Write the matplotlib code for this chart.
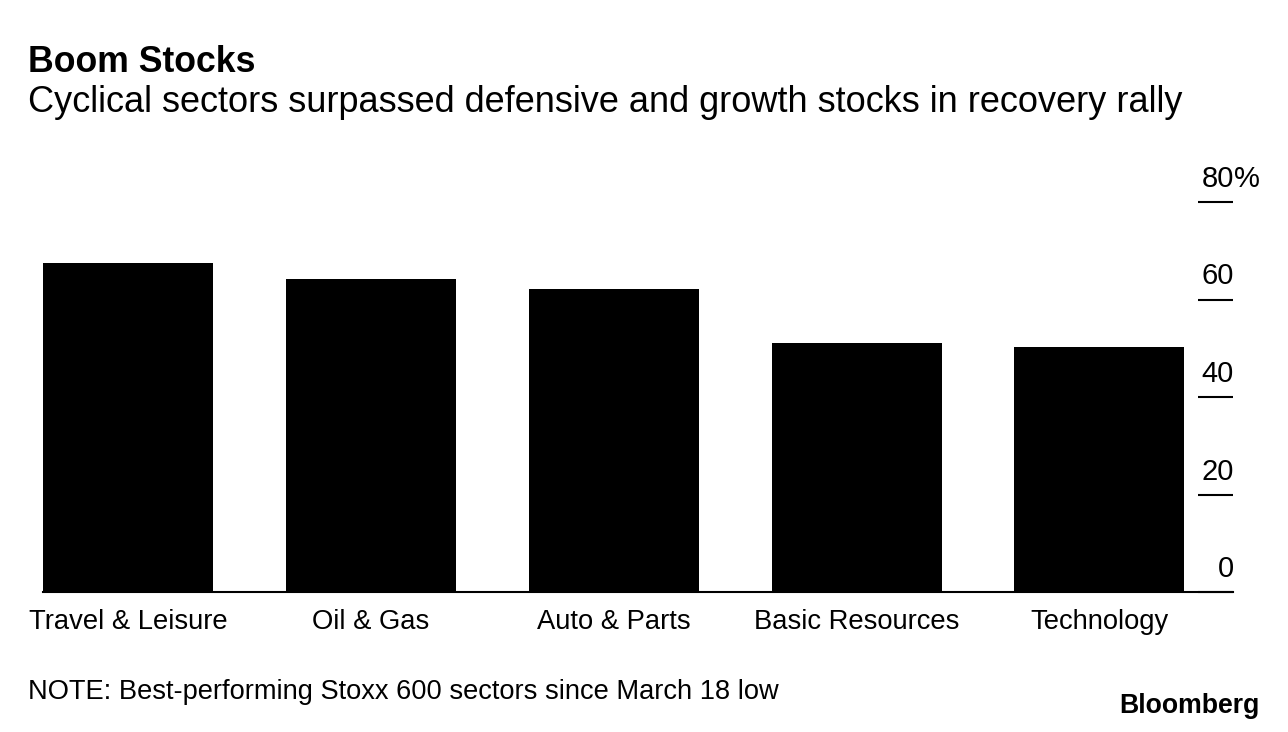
import matplotlib.pyplot as plt
from matplotlib import transforms

plt.rcParams['font.family'] = ['Liberation Sans', 'DejaVu Sans']

# Best-performing Stoxx 600 sectors since March 18 low (% gain)
sectors = ["Travel & Leisure", "Oil & Gas", "Auto & Parts", "Basic Resources", "Technology"]
gains = [67.4, 64.2, 62.1, 51.0, 50.2]
yticks = [0, 20, 40, 60, 80]

fig = plt.figure(figsize=(12.88, 7.32), dpi=100)
ax = fig.add_axes([43 / 1288, 140 / 732, 1190 / 1288, 390 / 732])

x = range(len(sectors))
ax.bar(x, gains, width=0.7, color="black")
ax.set_xlim(-0.35, len(sectors) - 0.45)
ax.set_ylim(0, 80)

for s in ["top", "left", "right"]:
    ax.spines[s].set_visible(False)
ax.spines["bottom"].set_linewidth(1.5)

ax.set_xticks(list(x))
ax.set_xticklabels(sectors, fontsize=19.7)
ax.tick_params(axis="x", length=0, pad=12)

ax.yaxis.tick_right()
ax.set_yticks(yticks)
ax.tick_params(axis="y", direction="in", length=25, width=1.5, labelright=False)

# tick labels sit above the tick marks
trans = transforms.blended_transform_factory(ax.transAxes, ax.transData)
off = transforms.offset_copy(trans, fig=fig, x=1, y=9, units="dots")
for v in yticks:
    ax.text(1.0, v, str(v), transform=off, ha="right", va="bottom", fontsize=21)
    if v == yticks[-1]:
        ax.text(1.0, v, "%", transform=off, ha="left", va="bottom", fontsize=21)

fig.text(28 / 1288, 1 - 62 / 732, "Boom Stocks", fontsize=25.7, fontweight="bold", va="center")
fig.text(28 / 1288, 1 - 103 / 732, "Cyclical sectors surpassed defensive and growth stocks in recovery rally",
         fontsize=26, va="center")
fig.text(28 / 1288, 1 - 692 / 732, "NOTE: Best-performing Stoxx 600 sectors since March 18 low",
         fontsize=19.6, va="center")
fig.text(1260 / 1288, 1 - 706 / 732, "Bloomberg", fontsize=19.2, fontweight="bold", ha="right", va="center")

fig.savefig("out.png", dpi=100)
